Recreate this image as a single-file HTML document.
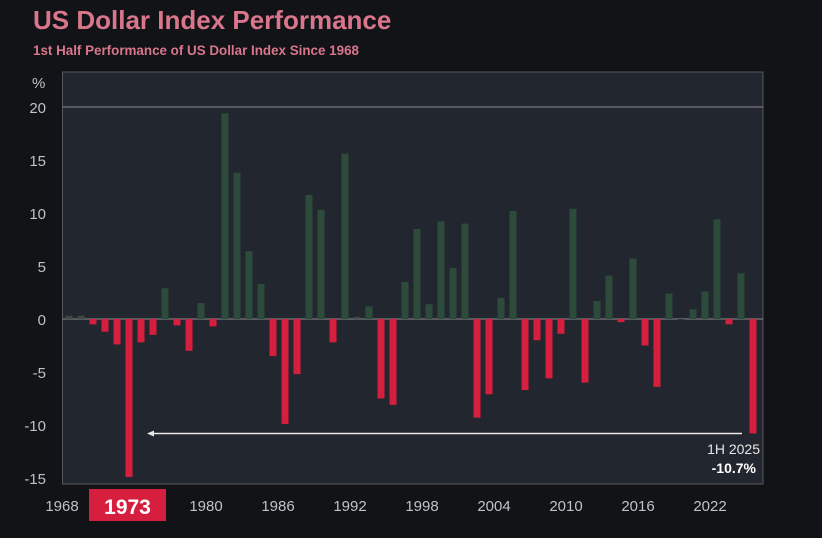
<!DOCTYPE html>
<html><head><meta charset="utf-8">
<style>
html,body{margin:0;padding:0;background:#111317;}
body{width:822px;height:533px;overflow:hidden;font-family:"Liberation Sans",sans-serif;}
</style></head>
<body>
<svg id="chart" width="822" height="533" xmlns="http://www.w3.org/2000/svg">
<rect x="0" y="0" width="822" height="533" fill="#111317"/>
<text x="33" y="29" font-size="26" font-weight="bold" fill="#d9768b">US Dollar Index Performance</text>
<text x="33" y="55" font-size="13.4" font-weight="bold" fill="#d9768b">1st Half Performance of US Dollar Index Since 1968</text>
<rect x="62.5" y="72" width="700.5" height="412" fill="#22262e" stroke="#55595f" stroke-width="1"/>
<g id="grid"></g>
<g id="bars"></g>
<g id="yticks"></g>
<g id="xticks"></g>
<text x="32" y="88" font-size="15" fill="#bfc2c6">%</text>
<g>
<line x1="152" y1="433.5" x2="742" y2="433.5" stroke="#e8e8e8" stroke-width="1.5"/>
<polygon points="147,433.5 154,430.5 154,436.5" fill="#e8e8e8"/>
</g>
<text x="760" y="454" font-size="14" fill="#e6e6e6" text-anchor="end">1H 2025</text>
<text x="756" y="473" font-size="14" font-weight="bold" fill="#ffffff" text-anchor="end">-10.7%</text>
</svg>
<script>
const years = [1968,1969,1970,1971,1972,1973,1974,1975,1976,1977,1978,1979,1980,1981,1982,1983,1984,1985,1986,1987,1988,1989,1990,1991,1992,1993,1994,1995,1996,1997,1998,1999,2000,2001,2002,2003,2004,2005,2006,2007,2008,2009,2010,2011,2012,2013,2014,2015,2016,2017,2018,2019,2020,2021,2022,2023,2024,2025];
const values = [0.3,0.3,-0.5,-1.2,-2.4,-14.9,-2.2,-1.5,2.9,-0.6,-3.0,1.5,-0.7,19.4,13.8,6.4,3.3,-3.5,-9.9,-5.2,11.7,10.3,-2.2,15.6,0.2,1.2,-7.5,-8.1,3.5,8.5,1.4,9.2,4.8,9.0,-9.3,-7.1,2.0,10.2,-6.7,-2.0,-5.6,-1.4,10.4,-6.0,1.7,4.1,-0.3,5.7,-2.5,-6.4,2.4,0.0,0.9,2.6,9.4,-0.5,4.3,-10.8];
const yTicks = [20,15,10,5,0,-5,-10,-15];
const xTickYears = [1968,1973,1980,1986,1992,1998,2004,2010,2016,2022];
const highlightYear = 1973;

const NS = "http://www.w3.org/2000/svg";
function xScale(yr){ return 69 + (yr - 1968) * 12; }
function yScale(v){ return 319 - v * 10.6; }

const grid = document.getElementById('grid');
[20,0].forEach(function(v){
  const l = document.createElementNS(NS,'line');
  l.setAttribute('x1',62.5); l.setAttribute('x2',763);
  l.setAttribute('y1',yScale(v)); l.setAttribute('y2',yScale(v));
  l.setAttribute('stroke','#8a8d92'); l.setAttribute('stroke-width','1');
  
  
  grid.appendChild(l);
});

const bars = document.getElementById('bars');
years.forEach(function(yr,i){
  const v = values[i];
  const r = document.createElementNS(NS,'rect');
  const y0 = yScale(0), y1 = yScale(v);
  r.setAttribute('x', xScale(yr) - 3.5);
  r.setAttribute('width', 7);
  r.setAttribute('y', Math.min(y0,y1));
  r.setAttribute('height', Math.max(Math.abs(y1-y0), 0.5));
  r.setAttribute('fill', v >= 0 ? (v < 0.5 ? '#3d4a45' : '#2d4b3b') : '#d61f3f');
  
  
  bars.appendChild(r);
});

const yt = document.getElementById('yticks');
yTicks.forEach(function(v){
  const t = document.createElementNS(NS,'text');
  t.setAttribute('x', 46); t.setAttribute('y', yScale(v) + 6);
  t.setAttribute('font-size', 15); t.setAttribute('fill', '#bfc2c6');
  t.setAttribute('text-anchor', 'end');
  t.textContent = v;
  
  
  yt.appendChild(t);
});

const xt = document.getElementById('xticks');
xTickYears.forEach(function(yr){
  const cx = yr === highlightYear ? 127.5 : xScale(yr) - 7;
  if (yr === highlightYear) {
    const b = document.createElementNS(NS,'rect');
    b.setAttribute('x', 89); b.setAttribute('y', 489);
    b.setAttribute('width', 77); b.setAttribute('height', 32);
    b.setAttribute('fill', '#d61f3f');
    
    
    xt.appendChild(b);
  }
  const t = document.createElementNS(NS,'text');
  t.setAttribute('x', cx); t.setAttribute('y', yr === highlightYear ? 514 : 511);
  t.setAttribute('text-anchor', 'middle');
  t.setAttribute('font-size', yr === highlightYear ? 21 : 15);
  t.setAttribute('font-weight', yr === highlightYear ? 'bold' : 'normal');
  t.setAttribute('fill', yr === highlightYear ? '#ffffff' : '#bfc2c6');
  t.textContent = yr;
  
  
  xt.appendChild(t);
});
</script>
</body></html>
